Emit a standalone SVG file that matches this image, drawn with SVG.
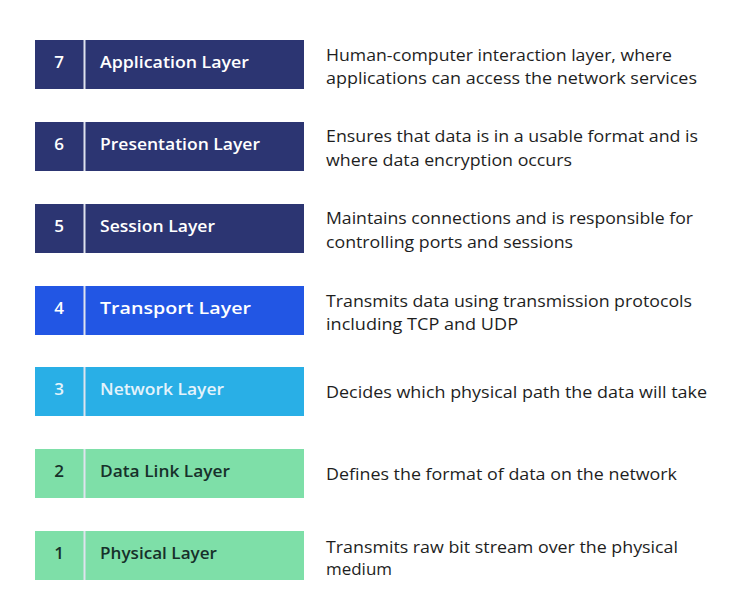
<svg xmlns="http://www.w3.org/2000/svg" width="752" height="605" viewBox="0 0 752 605">
<style>
.bar{stroke:none}
.div{stroke:#dfe3ee;stroke-width:2}
.num{font-family:"Open Sans","Liberation Sans",sans-serif;font-size:17px;font-weight:600;text-anchor:middle}
.lbl{font-family:"Open Sans","Liberation Sans",sans-serif;font-size:17px;font-weight:600}
.desc{font-family:"Open Sans","Liberation Sans",sans-serif;font-size:16px;fill:#1e1e1e}
.lt{fill:#ffffff}
.lb{fill:#e4f3fb}
.dk{fill:#17302a}
</style>
<rect width="752" height="605" fill="#ffffff"/>
<g id="layer7">
<rect class="bar" x="35" y="40" width="269" height="49" fill="#2c3572"/>
<line class="div" x1="84.5" y1="40" x2="84.5" y2="89"/>
<text class="num lt" x="59" y="68">7</text>
<text class="lbl lt" x="100" y="68" textLength="149" lengthAdjust="spacingAndGlyphs">Application Layer</text>
<text class="desc" x="326" y="61" textLength="346" lengthAdjust="spacingAndGlyphs">Human-computer interaction layer, where</text>
<text class="desc" x="326" y="84" textLength="371" lengthAdjust="spacingAndGlyphs">applications can access the network services</text>
</g>
<g id="layer6">
<rect class="bar" x="35" y="122" width="269" height="49" fill="#2c3572"/>
<line class="div" x1="84.5" y1="122" x2="84.5" y2="171"/>
<text class="num lt" x="59" y="150">6</text>
<text class="lbl lt" x="100" y="150" textLength="160" lengthAdjust="spacingAndGlyphs">Presentation Layer</text>
<text class="desc" x="326" y="142" textLength="372" lengthAdjust="spacingAndGlyphs">Ensures that data is in a usable format and is</text>
<text class="desc" x="326" y="166" textLength="246" lengthAdjust="spacingAndGlyphs">where data encryption occurs</text>
</g>
<g id="layer5">
<rect class="bar" x="35" y="204" width="269" height="49" fill="#2c3572"/>
<line class="div" x1="84.5" y1="204" x2="84.5" y2="253"/>
<text class="num lt" x="59" y="232">5</text>
<text class="lbl lt" x="100" y="232" textLength="115" lengthAdjust="spacingAndGlyphs">Session Layer</text>
<text class="desc" x="326" y="224" textLength="367" lengthAdjust="spacingAndGlyphs">Maintains connections and is responsible for</text>
<text class="desc" x="326" y="248" textLength="247" lengthAdjust="spacingAndGlyphs">controlling ports and sessions</text>
</g>
<g id="layer4">
<rect class="bar" x="35" y="286" width="269" height="49" fill="#2256e4"/>
<line class="div" x1="84.5" y1="286" x2="84.5" y2="335"/>
<text class="num lt" x="59" y="314">4</text>
<text class="lbl lt" x="100" y="314" textLength="151" lengthAdjust="spacingAndGlyphs">Transport Layer</text>
<text class="desc" x="326" y="307" textLength="366" lengthAdjust="spacingAndGlyphs">Transmits data using transmission protocols</text>
<text class="desc" x="326" y="330" textLength="192" lengthAdjust="spacingAndGlyphs">including TCP and UDP</text>
</g>
<g id="layer3">
<rect class="bar" x="35" y="367" width="269" height="49" fill="#29afe6"/>
<line class="div" x1="84.5" y1="367" x2="84.5" y2="416"/>
<text class="num lb" x="59" y="395">3</text>
<text class="lbl lb" x="100" y="395" textLength="124" lengthAdjust="spacingAndGlyphs">Network Layer</text>
<text class="desc" x="326" y="398" textLength="381" lengthAdjust="spacingAndGlyphs">Decides which physical path the data will take</text>
</g>
<g id="layer2">
<rect class="bar" x="35" y="449" width="269" height="49" fill="#7edfa8"/>
<line class="div" x1="84.5" y1="449" x2="84.5" y2="498"/>
<text class="num dk" x="59" y="477">2</text>
<text class="lbl dk" x="100" y="477" textLength="130" lengthAdjust="spacingAndGlyphs">Data Link Layer</text>
<text class="desc" x="326" y="480" textLength="351" lengthAdjust="spacingAndGlyphs">Defines the format of data on the network</text>
</g>
<g id="layer1">
<rect class="bar" x="35" y="531" width="269" height="49" fill="#7edfa8"/>
<line class="div" x1="84.5" y1="531" x2="84.5" y2="580"/>
<text class="num dk" x="59" y="559">1</text>
<text class="lbl dk" x="100" y="559" textLength="117" lengthAdjust="spacingAndGlyphs">Physical Layer</text>
<text class="desc" x="326" y="553" textLength="352" lengthAdjust="spacingAndGlyphs">Transmits raw bit stream over the physical</text>
<text class="desc" x="326" y="575" textLength="66" lengthAdjust="spacingAndGlyphs">medium</text>
</g>
<g id="connectors"></g>
</svg>
